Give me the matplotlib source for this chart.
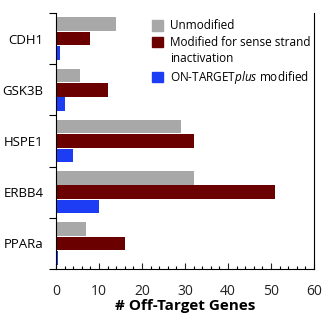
import numpy as np
import matplotlib
matplotlib.use("Agg")
import matplotlib.pyplot as plt
from matplotlib.patches import Patch
from matplotlib.ticker import MultipleLocator

plt.rcParams['font.family'] = ['Open Sans', 'DejaVu Sans']
plt.rcParams['mathtext.fontset'] = 'custom'
plt.rcParams['mathtext.it'] = 'Open Sans:italic'
plt.rcParams['mathtext.rm'] = 'Open Sans'

genes = ["CDH1", "GSK3B", "HSPE1", "ERBB4", "PPARa"]
unmodified = [14, 5.6, 29, 32, 7]
sense_mod = [8, 12, 32, 51, 16]
ontarget = [1, 2, 4, 10, 0.4]

c_gray = "#a8a8a8"
c_red = "#6a0000"
c_blue = "#1d3df5"

fig = plt.figure(figsize=(3.34, 3.23), dpi=100)
ax = fig.add_axes([0.168, 0.167, 0.772, 0.793])

y = np.arange(len(genes))
h = 0.265
ax.barh(y - 0.28, unmodified, height=h, color=c_gray)
ax.barh(y, sense_mod, height=h, color=c_red)
ax.barh(y + 0.28, ontarget, height=h, color=c_blue)

ax.set_ylim(len(genes) - 0.5, -0.5)
ax.set_xlim(0, 60)

# gene names at group centres, tick marks at group boundaries
ax.set_yticks(np.arange(len(genes) + 1) - 0.5)
ax.set_yticklabels([])
ax.set_yticks(y, minor=True)
ax.set_yticklabels(genes, minor=True, fontsize=9.5)
ax.tick_params(axis='y', which='major', direction='out', length=5, width=0.8)
ax.tick_params(axis='y', which='minor', length=0, pad=9)

ax.xaxis.set_major_locator(MultipleLocator(10))
ax.xaxis.set_minor_locator(MultipleLocator(2))
ax.tick_params(axis='x', which='major', direction='in', length=4, width=0.8, labelsize=10, pad=11, colors='#222222')
ax.tick_params(axis='x', which='minor', direction='in', length=2.5, width=0.8)

ax.spines['top'].set_visible(False)
for s in ['left', 'bottom', 'right']:
    ax.spines[s].set_linewidth(0.8)

ax.set_xlabel("# Off-Target Genes", fontsize=11, fontweight='bold', labelpad=0)

handles = [Patch(color=c_gray), Patch(color=c_red), Patch(color='none'), Patch(color=c_blue)]
labels = ["Unmodified", "Modified for sense strand", "inactivation", r"ON-TARGET$\it{plus}$ modified"]
ax.legend(handles, labels, loc='upper left', bbox_to_anchor=(0.37, 0.975), frameon=False,
          fontsize=8.5, handlelength=1.0, handleheight=1.0, handletextpad=0.6,
          labelspacing=0.3, borderpad=0, borderaxespad=0)

fig.savefig("out.png", dpi=100)
